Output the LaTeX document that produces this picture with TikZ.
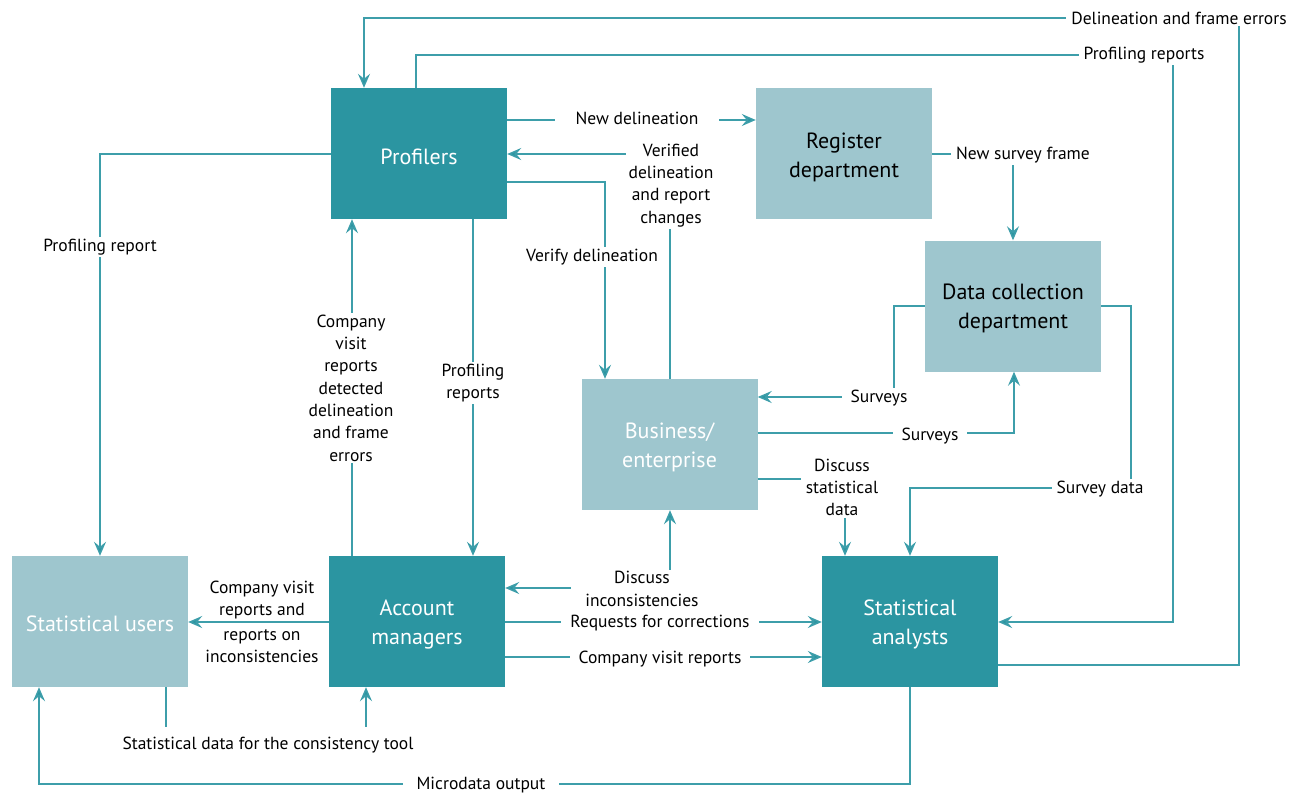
\documentclass[tikz,border=0pt]{standalone}
\usepackage{fontspec}
\setmainfont{PT Sans}
\usetikzlibrary{arrows.meta}
\definecolor{darkbox}{HTML}{2B95A1}
\definecolor{lightbox}{HTML}{9EC6CE}
\definecolor{lncol}{HTML}{3D9EAA}
\begin{document}
\begin{tikzpicture}[x=1pt,y=-1pt,
  box/.style={minimum width=176pt,minimum height=131pt,inner sep=0pt},
  dbox/.style={box,fill=darkbox},
  lbox/.style={box,fill=lightbox},
  btext/.style={inner sep=0pt,align=center,font=\fontsize{22}{29}\selectfont},
  conn/.style={draw=lncol,line width=1.5pt,-{Stealth[length=14pt,width=12pt,inset=5pt,fill=darkbox]}},
  both/.style={draw=lncol,line width=1.5pt,{Stealth[length=14pt,width=12pt,inset=5pt,fill=darkbox]}-{Stealth[length=14pt,width=12pt,inset=5pt,fill=darkbox]}},
  lab/.style={fill=white,inner xsep=5pt,inner ysep=2pt,align=center,text=black,
    font=\fontsize{17.5}{22.3}\selectfont},
  labw/.style={lab,inner xsep=9pt},
  labn/.style={lab,fill=none}]
\useasboundingbox (0,0) rectangle (1296,793);

% boxes
\node[dbox] (prof) at (419,153.5) {};
\node[lbox] (reg) at (844,153.5) {};
\node[lbox] (dcd) at (1013,306) {};
\node[lbox] (biz) at (669.5,444.5) {};
\node[lbox] (su) at (100,621.5) {};
\node[dbox] (am) at (417,621.5) {};
\node[dbox] (sa) at (910,621.5) {};
\node[btext,text=white] (proft) at ([yshift=-3pt]prof.center) {Profilers};
\node[btext,text=black] (regt) at ([yshift=-3.5pt]reg.center) {Register\\department};
\node[btext,text=black] (dcdt) at ([yshift=-2pt]dcd.center) {Data collection\\department};
\node[btext,text=white] (bizt) at ([yshift=-3pt]biz.center) {Business/\\enterprise};
\node[btext,text=white] (sut) at ([yshift=-2pt]su.center) {Statistical users};
\node[btext,text=white] (amt) at ([yshift=-3pt]am.center) {Account\\managers};
\node[btext,text=white] (sat) at ([yshift=-3pt]sa.center) {Statistical\\analysts};

% connectors
\draw[conn] (sa.east |- 0,665) -- (1239,665) -- (1239,18) -- (364,18) -- (prof.north -| 364,0);
\node[lab] (l1) at (1179,18) {Delineation and frame errors};

\draw[conn] (prof.north -| 416,0) -- (416,55) -- (1173,55) -- (1173,622) -- (sa.east |- 0,622);
\node[lab] (l2) at (1144,55) {Profiling reports};

\draw[conn] (prof.east |- 0,120) -- (reg.west |- 0,120);
\node[lab,inner xsep=21pt] (l3) at (637,118.5) {New delineation};

\draw[conn] (biz.north -| 670,0) -- (670,154) -- (prof.east |- 0,154);
\node[lab,inner xsep=3pt] (l4) at (671,185.5) {Verified\\delineation\\and report\\changes};

\draw[conn] (prof.east |- 0,182) -- (605,182) -- (biz.north -| 605,0);
\node[lab] (l5) at (592,257) {Verify delineation};

\draw[conn] (reg.east |- 0,154) -- (1013,154) -- (dcd.north -| 1013,0);
\node[lab] (l6) at (1023,155) {New survey frame};

\draw[conn] (dcd.west |- 0,306) -- (894,306) -- (894,397) -- (biz.east |- 0,397);
\node[labw] (l7) at (879,398) {Surveys};

\draw[conn] (biz.east |- 0,433) -- (1014,433) -- (dcd.south -| 1014,0);
\node[labw] (l8) at (930,436) {Surveys};

\draw[conn] (biz.east |- 0,479) -- (845,479) -- (sa.north -| 845,0);
\node[lab] (l9) at (842,487.5) {Discuss\\statistical\\data};

\draw[conn] (dcd.east |- 0,306) -- (1131,306) -- (1131,488) -- (910,488) -- (sa.north -| 910,0);
\node[lab] (l10) at (1100,489) {Survey data};

\draw[conn] (prof.west |- 0,154) -- (100,154) -- (su.north -| 100,0);
\node[lab] (l11) at (100,247) {Profiling report};

\draw[conn] (prof.south -| 473,0) -- (am.north -| 473,0);
\node[lab] (l12) at (473,383) {Profiling\\reports};

\draw[conn] (am.north -| 352,0) -- (prof.south -| 352,0);
\node[lab] (l13) at (351,388) {Company\\visit\\reports\\detected\\delineation\\and frame\\errors};

\draw[both] (am.east |- 0,588) -- (670,588) -- (biz.south -| 670,0);
\node[lab,inner xsep=14pt] (l14) at (642,589) {Discuss\\inconsistencies};

\draw[conn] (am.west |- 0,622) -- (su.east |- 0,622);
\node[labn] (l15a) at (262,600) {Company visit\\reports and};
\node[labn] (l15b) at (262,646.5) {reports on\\inconsistencies};

\draw[conn] (am.east |- 0,622) -- (sa.west |- 0,622);
\node[labw] (l16) at (660,623) {Requests for corrections};

\draw[conn] (am.east |- 0,657) -- (sa.west |- 0,657);
\node[labw] (l17) at (660,659) {Company visit reports};

\draw[conn] (su.south -| 166,0) -- (166,744) -- (366,744) -- (am.south -| 366,0);
\node[lab,inner ysep=10pt] (l18) at (268,745) {Statistical data for the consistency tool};

\draw[conn] (sa.south -| 910,0) -- (910,784) -- (39,784) -- (su.south -| 39,0);
\node[lab,inner xsep=14pt] (l19) at (481,785) {Microdata output};
\end{tikzpicture}
\end{document}
